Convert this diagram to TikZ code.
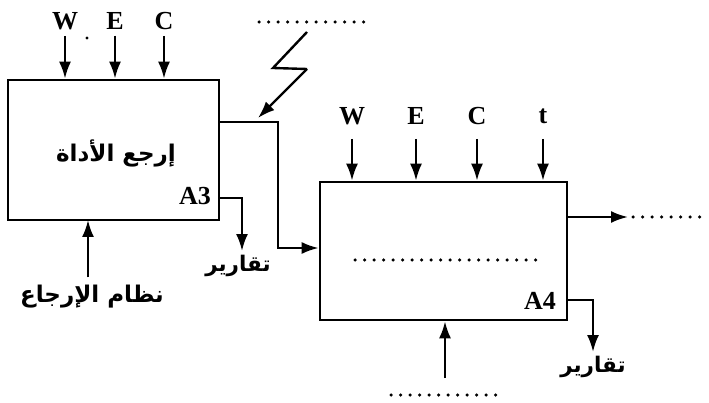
\documentclass[tikz,border=0pt]{standalone}
\usepackage{fontspec}
\setmainfont{Liberation Serif}
\newfontfamily\arabicfont[Script=Arabic]{DejaVu Sans}
\TeXXeTstate=1
\usetikzlibrary{arrows.meta}
\tikzset{
  box/.style={draw, line width=2.6pt, inner sep=0pt},
  lbl/.style={font=\fontsize{26}{26}\selectfont\bfseries, inner sep=0pt},
  ar/.style={font=\fontsize{23}{23}\selectfont\arabicfont\bfseries, inner sep=0pt},
  ars/.style={font=\fontsize{21.5}{21.5}\selectfont\arabicfont\bfseries, inner sep=0pt},
  arr/.style={line width=2.4pt, -{Latex[length=17pt,width=12pt]}},
  dots/.style={line width=3.5pt, line cap=round, dash pattern=on 0pt off 9.5pt},
}
\begin{document}
\begin{tikzpicture}[x=1pt,y=-1pt]
\useasboundingbox (0,0) rectangle (709,403);
% boxes
\node[box, minimum width=211pt, minimum height=140pt] (A3) at (113.5,150) {};
\node[box, minimum width=247pt, minimum height=138pt] (A4) at (443.5,251) {};
% A3 inputs
\node[lbl] (w1) at (65,21) {W};
\node[lbl] (e1) at (115,21) {E};
\node[lbl] (c1) at (164,21) {C};
\fill (87,38) circle (1.6pt);
\foreach \n in {w1,e1,c1} \draw[arr] ([yshift=-6pt]\n.south) -- (\n.south |- A3.north);
% A3 labels
\node[ar] (t3) at (116,153) {\arabicfont\beginR إرجع الأداة\endR};
\node[lbl] (a3) at (195,196) {A3};
% A3 mechanism
\node[ar] (mech) at (92,297) {\arabicfont\beginR نظام الإرجاع\endR};
\draw[arr] ([yshift=8pt]mech.north -| 88,0) -- (88,220);
% A3 report
\coordinate (r3a) at (A3.east |- 0,198);
\coordinate (r3b) at (242,198);
\node[ars] (rep3) at (238,266) {\arabicfont\beginR تقارير\endR};
\draw[arr] (r3a) -- (r3b) -- ([yshift=4pt]rep3.north -| r3b);
% top dotted & lightning
\coordinate (d1a) at (259,22);
\coordinate (d1b) at (370,22);
\draw[dots] (d1a) -- (d1b);
\coordinate (z1) at (307,32);
\coordinate (z2) at (273,68);
\coordinate (z3) at (307,69);
\coordinate (z4) at (258,118);
\draw[line width=2.4pt] (z1) -- (z2) -- (z3);
\draw[arr] (z3) -- (z4);
% A3 -> A4 connector
\coordinate (o3) at (A3.east |- 0,122);
\coordinate (k1) at (278,122);
\coordinate (k2) at (278,248);
\draw[arr] (o3) -- (k1) -- (k2) -- (k2 -| A4.west);
% A4 inputs
\node[lbl] (w2) at (352,116) {W};
\node[lbl] (e2) at (416,116) {E};
\node[lbl] (c2) at (477,116) {C};
\node[lbl] (tt) at (543,116) {t};
\foreach \n in {w2,e2,c2,tt} \draw[arr] (\n.south |- 0,139) -- (\n.south |- A4.north);
% A4 inside
\coordinate (d2a) at (355,260);
\coordinate (d2b) at (541,260);
\draw[dots] (d2a) -- (d2b);
\node[lbl] (a4) at (540,301) {A4};
% A4 output
\coordinate (o4) at (A4.east |- 0,217);
\coordinate (o4b) at (628,217);
\coordinate (o4c) at (706,217);
\draw[arr] (o4) -- (o4b);
\draw[dots] ([xshift=5pt]o4b) -- (o4c);
% A4 report
\coordinate (r4a) at (A4.east |- 0,300);
\coordinate (r4b) at (593,300);
\node[ars] (rep4) at (593,367) {\arabicfont\beginR تقارير\endR};
\draw[arr] (r4a) -- (r4b) -- ([yshift=4pt]rep4.north -| r4b);
% A4 mechanism
\coordinate (m4) at (445,378);
\draw[arr] (m4) -- (m4 |- A4.south);
\coordinate (d3a) at (391,395);
\coordinate (d3b) at (502,395);
\draw[dots] (d3a) -- (d3b);
\end{tikzpicture}
\end{document}
